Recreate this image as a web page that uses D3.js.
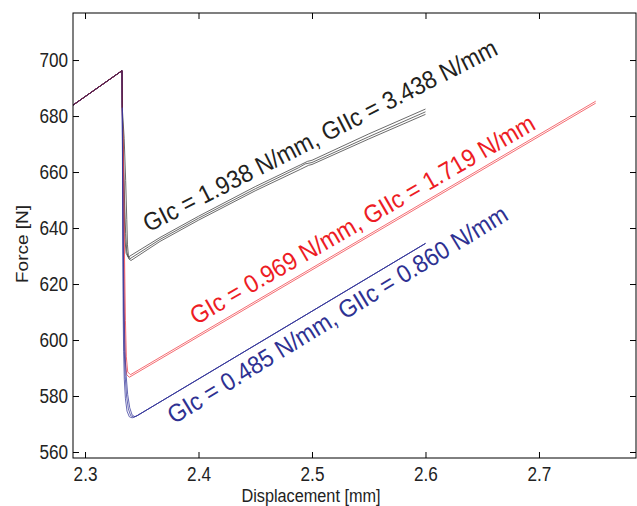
<!DOCTYPE html>
<html><head><meta charset="utf-8">
<script src="https://cdn.jsdelivr.net/npm/d3@7"></script>
<style>body{margin:0;background:#fff}svg{display:block}text{font-family:"Liberation Sans",Arial,sans-serif}</style>
</head><body><svg id="c" width="637" height="506"></svg>
<script>
// ---- data ----
const xTicks = [2.3, 2.4, 2.5, 2.6, 2.7];
const yTicks = [560, 580, 600, 620, 640, 660, 680, 700];
const loading = [[2.2894, 683.9], [2.3326, 696.2], [2.3328, 683.0]];
const black1 = [[2.3328,683.0],[2.3334,672],[2.3340,658],[2.3346,645],[2.3352,636],[2.3362,631],[2.3380,629.6],[2.3660,636.6],[2.4000,644.2],[2.4500,654.8],[2.4900,662.6],[2.4960,663.8],[2.5000,664.2],[2.5500,673.6],[2.6000,682.5]];
const black2 = [[2.3328,683.0],[2.3345,672],[2.3358,657],[2.3368,643],[2.3374,634],[2.3382,630.2],[2.3395,629.0],[2.3660,635.9],[2.4000,643.5],[2.4500,654.0],[2.4880,661.5],[2.4940,662.9],[2.5000,663.4],[2.5500,672.6],[2.6000,681.5]];
const black3 = [[2.3328,683.0],[2.3338,668],[2.3348,650],[2.3358,638],[2.3368,631.5],[2.3385,629.0],[2.3405,628.4],[2.3660,635.2],[2.4000,642.8],[2.4500,653.3],[2.4900,661.0],[2.4970,662.4],[2.5000,662.7],[2.5500,671.8],[2.6000,680.6]];
const red1 = [[2.3328,683.0],[2.3336,660],[2.3342,630],[2.3348,605],[2.3355,592],[2.3368,587.6],[2.3390,586.7],[2.7500,684.6]];
const red2 = [[2.3328,683.0],[2.3340,660],[2.3348,630],[2.3356,607],[2.3364,594],[2.3376,588.6],[2.3400,587.6],[2.7500,685.3]];
const blue1 = [[2.3328,683.0],[2.3332,640],[2.3336,610],[2.3340,596],[2.3346,586],[2.3356,579],[2.3370,574.6],[2.3390,572.6],[2.3415,572.2],[2.3460,573.0],[2.6000,634.5]];
const blue2 = [[2.3328,683.0],[2.3334,640],[2.3340,610],[2.3346,596],[2.3354,587],[2.3366,580],[2.3382,575.4],[2.3402,573.0],[2.3430,572.4],[2.3460,573.0],[2.6000,634.5]];
const blue3 = [[2.3328,683.0],[2.3336,640],[2.3344,610],[2.3352,596],[2.3362,587.5],[2.3376,580.5],[2.3394,575.8],[2.3415,573.2],[2.3440,572.6],[2.3460,573.0],[2.6000,634.5]];
const labels = [
  {text: "GIc = 1.938 N/mm, GIIc = 3.438 N/mm", color: "#231f20", x: 2.3560, y: 638.4, angle: -27},
  {text: "GIc = 0.969 N/mm, GIIc = 1.719 N/mm", color: "#ed1c24", x: 2.3980, y: 605.3, angle: -30},
  {text: "GIc = 0.485 N/mm, GIIc = 0.860 N/mm", color: "#2e3192", x: 2.3785, y: 569.8, angle: -31.5}
];
// ---- chart ----
const svg = d3.select("#c");
const L = 73, R = 636, T = 13, B = 458;
const SX = 0.88;
const x = d3.scaleLinear().domain([2.2894, 2.7855]).range([L, R]);
const y = d3.scaleLinear().domain([557.86, 716.8]).range([B, T]);
const line = d3.line().x(d => x(d[0])).y(d => y(d[1]));
svg.append("clipPath").attr("id","cp").append("rect").attr("x",L).attr("y",T).attr("width",R-L).attr("height",B-T);
const g = svg.append("g").attr("clip-path","url(#cp)");
const curves = [
  [black1,"#3a3a3a"],[black2,"#3a3a3a"],[black3,"#3a3a3a"],
  [red1,"#f03c44"],[red2,"#f03c44"],
  [blue1,"#34369a"],[blue2,"#34369a"],[blue3,"#34369a"]
];
curves.forEach(([d,c]) => {
  g.append("path").attr("d", line(loading.concat(d.slice(1)))).attr("fill","none").attr("stroke",c).attr("stroke-width",0.75);
});
g.append("path").attr("d", line(loading)).attr("fill","none").attr("stroke","#6b1a30").attr("stroke-width",1.0);
// frame
svg.append("rect").attr("x",L).attr("y",T).attr("width",R-L).attr("height",B-T).attr("fill","none").attr("stroke","#000").attr("stroke-width",1);
const tl = 6;
const axB = d3.axisBottom(x).tickValues(xTicks).tickSizeInner(-tl).tickSizeOuter(0).tickPadding(9).tickFormat(d3.format(".1f"));
const axT = d3.axisTop(x).tickValues(xTicks).tickSizeInner(-tl).tickSizeOuter(0).tickFormat("");
const axLft = d3.axisLeft(y).tickValues(yTicks).tickSizeInner(-tl).tickSizeOuter(0).tickPadding(5).tickFormat(d3.format("d"));
const axRt = d3.axisRight(y).tickValues(yTicks).tickSizeInner(-tl).tickSizeOuter(0).tickFormat("");
function style(sel){
  sel.select(".domain").remove();
  sel.selectAll("line").attr("stroke","#000");
  sel.selectAll("text").attr("fill","#222").style("font-size","19.5px").style("font-family","Liberation Sans, Arial, sans-serif")
    .attr("x", function(){ return (+d3.select(this).attr("x") || 0) / SX; })
    .attr("transform", `scale(${SX},1)`);
}
svg.append("g").attr("transform",`translate(0,${B})`).call(axB).call(style);
svg.append("g").attr("transform",`translate(0,${T})`).call(axT).call(style);
svg.append("g").attr("transform",`translate(${L},0)`).call(axLft).call(style);
svg.append("g").attr("transform",`translate(${R},0)`).call(axRt).call(style);
svg.append("text").attr("transform",`translate(311,502) scale(${SX},1)`).attr("text-anchor","middle").attr("fill","#222").style("font-size","18.5px").text("Displacement [mm]");
svg.append("text").attr("transform",`translate(28,244) rotate(-90) scale(1,${SX})`).attr("text-anchor","middle").attr("fill","#222").style("font-size","19px").text("Force [N]");
labels.forEach(l => {
  svg.append("text").attr("transform",`translate(${x(l.x)},${y(l.y)}) rotate(${l.angle}) scale(0.92,1)`).attr("fill",l.color).style("font-size","25px").text(l.text);
});
</script></body></html>
